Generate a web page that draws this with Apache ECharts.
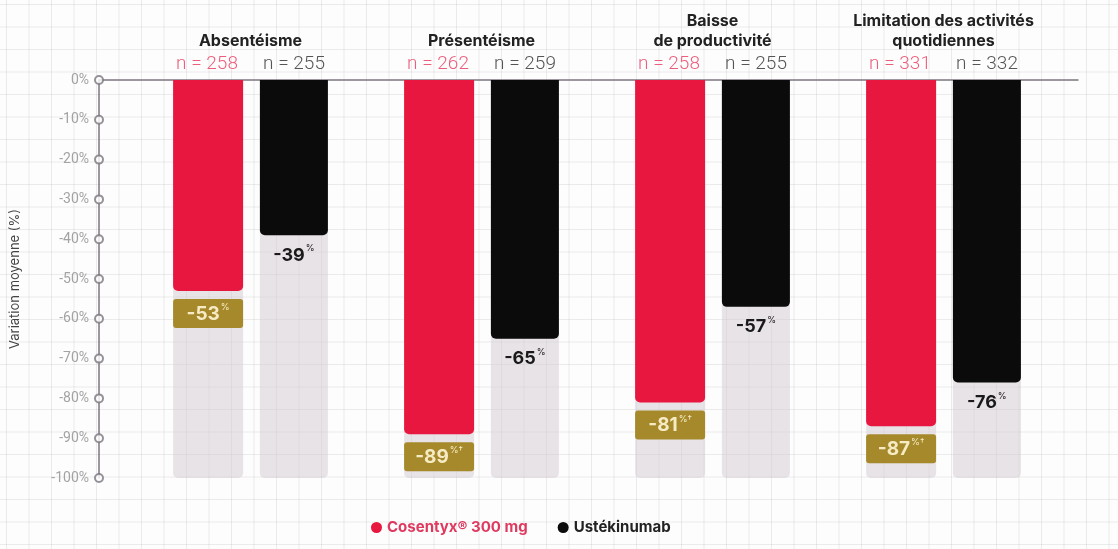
<!DOCTYPE html>
<html>
<head>
<meta charset="utf-8">
<script src="https://cdn.jsdelivr.net/npm/echarts@6/dist/echarts.min.js"></script>
<style>
  html, body {
    margin: 0;
    padding: 0;
  }
  body {
    background-color: #fdfdfd;
    background-image:
      linear-gradient(to right, rgba(0, 0, 0, 0.07) 1px, transparent 1px),
      linear-gradient(to bottom, rgba(0, 0, 0, 0.07) 1px, transparent 1px);
    background-size: 22.5px 22.5px;
    background-position: 6px 4px;
  }
  #chart {
    width: 1118px;
    height: 549px;
  }
</style>
</head>
<body>
<div id="chart"></div>
<script>
  // data
  var categories = ['Absentéisme', 'Présentéisme', 'Baisse\nde productivité', 'Limitation des activités\nquotidiennes']
  var seriesNames = ['Cosentyx® 300 mg', 'Ustékinumab']
  var cosentyx = [-53, -89, -81, -87]
  var ustekinumab = [-39, -65, -57, -76]
  var nCosentyx = [258, 262, 258, 331]
  var nUstekinumab = [255, 259, 255, 332]
  var supCosentyx = ['%', '%†', '%†', '%†']
  var supUstekinumab = ['%', '%', '%', '%']
  var yTicks = [0, -10, -20, -30, -40, -50, -60, -70, -80, -90, -100]

  var RED = '#e8173f'
  var BLACK = '#0b0b0b'
  var GOLD = '#a5892b'
  var AXIS = '#7c7680'
  var FONT = 'Inter'

  var chart = echarts.init(document.getElementById('chart'))

  chart.setOption({
    animation: false,
    textStyle: { fontFamily: FONT },
    legend: {
      left: 366,
      top: 515,
      itemGap: 30,
      itemWidth: 11,
      itemHeight: 11,
      icon: 'circle',
      textStyle: { fontSize: 15, fontWeight: 'bold', fontFamily: FONT },
      data: [
        { name: seriesNames[0], textStyle: { color: '#e0395f' } },
        { name: seriesNames[1], textStyle: { color: '#222' } }
      ]
    },
    grid: [
      { left: 135, right: 59, top: 80, height: 398 },
      { left: 99, right: 40, top: 80, height: 398 }
    ],
    xAxis: [
      {
        gridIndex: 0,
        type: 'category',
        position: 'top',
        data: categories,
        axisLine: { show: false },
        axisTick: { show: false },
        axisLabel: {
          interval: 0,
          margin: 3,
          formatter: function (value, idx) {
            var lines = value.split('\n').map(function (l) { return '{t|' + l + '}' })
            return lines.join('\n') + '\n{r|n = ' + nCosentyx[idx] + '}{g|}{k|n = ' + nUstekinumab[idx] + '}'
          },
          rich: {
            t: { fontSize: 16, fontWeight: 'bold', color: '#222', lineHeight: 20, fontFamily: FONT },
            r: { fontSize: 19, fontWeight: 300, color: '#ec5f7c', width: 80, align: 'center', lineHeight: 26, fontFamily: 'Roboto' },
            g: { width: 7 },
            k: { fontSize: 19, fontWeight: 300, color: '#555', width: 80, align: 'center', lineHeight: 26, fontFamily: 'Roboto' }
          }
        }
      },
      {
        gridIndex: 1,
        type: 'value',
        position: 'top',
        min: 0,
        max: 1,
        axisLine: { show: true, lineStyle: { color: AXIS, width: 1.5 } },
        axisTick: { show: false },
        axisLabel: { show: false },
        splitLine: { show: false }
      }
    ],
    yAxis: [
      {
        gridIndex: 0,
        type: 'value',
        min: -100,
        max: 0,
        show: false
      },
      {
        gridIndex: 1,
        type: 'value',
        min: -100,
        max: 0,
        interval: 10,
        name: 'Variation moyenne (%)',
        nameLocation: 'middle',
        nameGap: 77,
        nameTextStyle: { color: '#444', fontSize: 13, fontFamily: FONT },
        axisLine: { show: true, lineStyle: { color: AXIS, width: 1.5 } },
        axisTick: { show: false },
        splitLine: { show: false },
        axisLabel: {
          formatter: '{value}%',
          color: '#a3a3a3',
          fontSize: 14,
          margin: 10,
          fontFamily: 'Roboto'
        }
      }
    ],
    series: [
      {
        name: seriesNames[0],
        type: 'bar',
        xAxisIndex: 0,
        yAxisIndex: 0,
        data: cosentyx,
        barWidth: 70,
        barGap: '24%',
        itemStyle: { color: RED, borderRadius: [0, 0, 5, 5] },
        showBackground: true,
        backgroundStyle: { color: 'rgba(212, 202, 210, 0.5)', borderRadius: [0, 0, 5, 5] },
        label: {
          show: true,
          position: 'outside',
          distance: 8,
          backgroundColor: GOLD,
          borderRadius: 3,
          width: 70,
          align: 'center',
          padding: [4, 0, 3, 0],
          formatter: function (p) {
            return '{v|' + p.value + '}{s|' + supCosentyx[p.dataIndex] + '}'
          },
          rich: {
            v: { fontSize: 19, fontWeight: 'bold', color: '#f7ebc6', fontFamily: FONT, lineHeight: 22 },
            s: { fontSize: 9, color: '#f7ebc6', fontFamily: FONT, verticalAlign: 'top', lineHeight: 22, padding: [0, 0, 8, 1] }
          }
        }
      },
      {
        name: seriesNames[1],
        type: 'bar',
        xAxisIndex: 0,
        yAxisIndex: 0,
        data: ustekinumab,
        barWidth: 68,
        itemStyle: { color: BLACK, borderRadius: [0, 0, 5, 5] },
        showBackground: true,
        backgroundStyle: { color: 'rgba(212, 202, 210, 0.5)', borderRadius: [0, 0, 5, 5] },
        label: {
          show: true,
          position: 'outside',
          distance: 9,
          formatter: function (p) {
            return '{v|' + p.value + '}{s|' + supUstekinumab[p.dataIndex] + '}'
          },
          rich: {
            v: { fontSize: 18, fontWeight: 'bold', color: '#1a1a1a', fontFamily: FONT, lineHeight: 22 },
            s: { fontSize: 9, color: '#1a1a1a', fontFamily: FONT, verticalAlign: 'top', lineHeight: 22, padding: [0, 0, 8, 1] }
          }
        }
      },
      {
        name: 'ticks',
        type: 'scatter',
        xAxisIndex: 1,
        yAxisIndex: 1,
        clip: false,
        silent: true,
        symbol: 'emptyCircle',
        symbolSize: 8,
        itemStyle: { color: AXIS, borderWidth: 1.5 },
        data: yTicks.map(function (v) { return [0, v] })
      }
    ]
  })
</script>
</body>
</html>
